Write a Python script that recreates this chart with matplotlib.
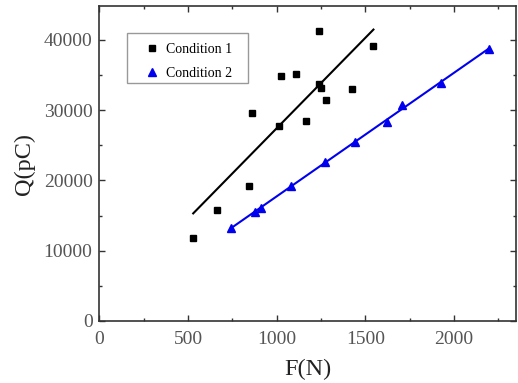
import numpy as np
import matplotlib
matplotlib.use("Agg")
import matplotlib.pyplot as plt
from matplotlib.patches import Rectangle

plt.rcParams["font.family"] = ["Liberation Serif", "DejaVu Serif"]

# Condition 1 measurements
force_1 = [529, 666, 845, 860, 1013, 1168, 1025, 1108, 1241, 1236, 1249, 1281, 1423, 1546]
charge_1 = [11800, 15800, 19200, 29600, 27800, 28500, 34800, 35200, 41300, 33700, 33200, 31500, 33000, 39100]

# Condition 2 measurements
force_2 = [745, 880, 909, 1079, 1271, 1444, 1625, 1708, 1925, 2196]
charge_2 = [13200, 15500, 16100, 19250, 22650, 25450, 28350, 30700, 33900, 38650]

x_ticks = [0, 500, 1000, 1500, 2000]
y_ticks = [0, 10000, 20000, 30000, 40000]

fig = plt.figure(figsize=(5.18, 3.83), dpi=100)
ax = fig.add_axes([0.192, 0.162, 0.804, 0.822])

# least-squares lines over each data range
def fit_line(x, y):
    k, b = np.polyfit(x, y, 1)
    xs = np.array([min(x), max(x)])
    return xs, k * xs + b

fx1, fy1 = fit_line(force_1, charge_1)
fx2, fy2 = fit_line(force_2, charge_2)

ax.plot(fx1, fy1, color="black", lw=1.5, zorder=2)
ax.plot(fx2, fy2, color="#0000ee", lw=1.5, zorder=2)
ax.plot(force_1, charge_1, ls="none", marker="s", ms=4.5, color="black",
        label="Condition 1", zorder=3)
ax.plot(force_2, charge_2, ls="none", marker="^", ms=6, color="#0000ee",
        label="Condition 2", zorder=3)

ax.set_xlim(0, 2350)
ax.set_ylim(0, 44800)
ax.set_xticks(x_ticks)
ax.set_yticks(y_ticks)
ax.set_xticks(np.arange(250, 2350, 500), minor=True)
ax.set_yticks(np.arange(5000, 44800, 10000), minor=True)

ax.tick_params(which="both", direction="in", top=True, right=True,
               labelsize=14, labelcolor="#555555", color="#333333", width=1)
ax.tick_params(which="major", length=4)
ax.tick_params(which="minor", length=2)
ax.tick_params(axis="x", which="major", pad=7)
ax.tick_params(axis="y", which="major", pad=5)
for s in ax.spines.values():
    s.set_color("#333333")
    s.set_linewidth(1.2)

ax.set_xlabel("F(N)", fontsize=17.5, color="#222222", labelpad=8)
ax.set_ylabel("Q(pC)", fontsize=17.5, color="#222222", labelpad=6)

# legend entries without their own frame, boxed by a plain rectangle
leg = ax.legend(loc="upper left", bbox_to_anchor=(0.106, 0.884), fontsize=10,
                frameon=False, borderpad=0, handletextpad=0.4,
                labelspacing=0.8, handlelength=1.2, borderaxespad=0)
ax.add_patch(Rectangle((0.066, 0.7556), 0.2905, 0.1584, transform=ax.transAxes,
                       fill=False, edgecolor="#999999", lw=1.0, zorder=4))

fig.savefig("out.png", dpi=100)
